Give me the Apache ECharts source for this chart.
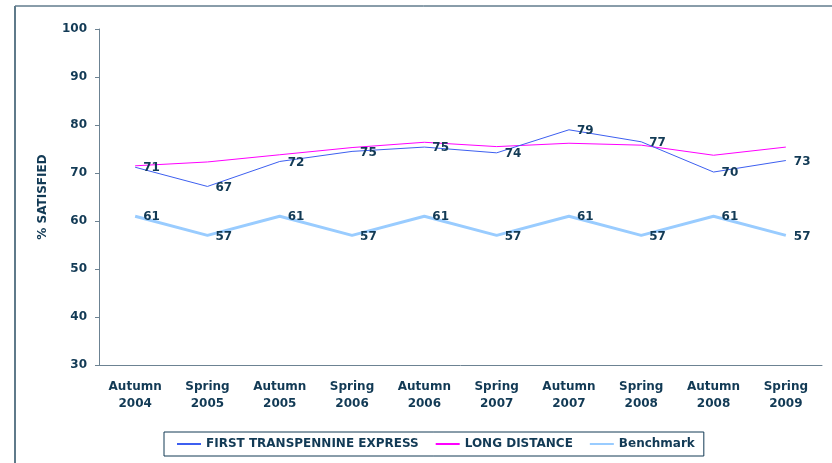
<!DOCTYPE html>
<html>
<head>
<meta charset="utf-8">
<script src="https://cdn.jsdelivr.net/npm/echarts@6/dist/echarts.min.js"></script>
<style>
  html, body { margin: 0; padding: 0; background: #fff; }
  #chart { width: 832px; height: 463px; }
</style>
</head>
<body>
<div id="chart"></div>
<script>
  // 调查期
  const categories = [
    'Autumn\n2004', 'Spring\n2005', 'Autumn\n2005', 'Spring\n2006', 'Autumn\n2006',
    'Spring\n2007', 'Autumn\n2007', 'Spring\n2008', 'Autumn\n2008', 'Spring\n2009'
  ];
  const transpennine = [71.2, 67.2, 72.4, 74.5, 75.4, 74.2, 79.0, 76.5, 70.2, 72.6];
  const longDistance = [71.5, 72.3, 73.8, 75.3, 76.4, 75.5, 76.2, 75.8, 73.7, 75.4];
  const benchmark = [61, 57, 61, 57, 61, 57, 61, 57, 61, 57];
  const yTicks = { min: 30, max: 100, interval: 10 };

  const navy = '#123a55';
  const font = 'DejaVu Sans';

  const chart = echarts.init(document.getElementById('chart'));

  const dataLabel = {
    show: true,
    position: 'right',
    distance: 8,
    offset: [0, 1],
    color: navy,
    fontFamily: font,
    fontWeight: 'bold',
    fontSize: 12,
    formatter: (p) => Math.round(p.value)
  };

  const option = {
    animation: false,
    backgroundColor: '#fff',
    grid: { left: 99, right: 10, top: 29, bottom: 98 },
    graphic: [
      // 外框（只露出左边和上边）
      { type: 'line', shape: { x1: 15, y1: 6, x2: 832, y2: 6 }, style: { stroke: navy, lineWidth: 1 } },
      { type: 'line', shape: { x1: 15, y1: 6, x2: 15, y2: 463 }, style: { stroke: '#5f7a8a', lineWidth: 2 } }
    ],
    legend: {
      left: 164,
      top: 432,
      padding: [6, 9, 6, 12],
      borderColor: navy,
      borderWidth: 1,
      itemWidth: 24,
      itemHeight: 8,
      itemGap: 16,
      itemStyle: { opacity: 0 },
      textStyle: { color: navy, fontFamily: font, fontWeight: 'bold', fontSize: 12 },
      data: ['FIRST TRANSPENNINE EXPRESS', 'LONG DISTANCE', 'Benchmark']
    },
    xAxis: {
      type: 'category',
      data: categories,
      axisLine: { lineStyle: { color: '#6c8292', width: 1 } },
      axisTick: { length: 4, lineStyle: { color: '#6c8292' } },
      axisLabel: {
        margin: 13,
        color: navy,
        fontFamily: font,
        fontWeight: 'bold',
        fontSize: 12,
        lineHeight: 17,
        interval: 0
      }
    },
    yAxis: {
      type: 'value',
      min: yTicks.min,
      max: yTicks.max,
      interval: yTicks.interval,
      name: '% SATISFIED',
      nameLocation: 'middle',
      nameGap: 50,
      nameTextStyle: { color: navy, fontFamily: font, fontWeight: 'bold', fontSize: 12 },
      splitLine: { show: false },
      axisLine: { show: true, lineStyle: { color: '#6c8292', width: 1 } },
      axisTick: { show: true, length: 4, lineStyle: { color: '#6c8292' } },
      axisLabel: {
        margin: 12,
        color: navy,
        fontFamily: font,
        fontWeight: 'bold',
        fontSize: 12
      }
    },
    series: [
      {
        name: 'FIRST TRANSPENNINE EXPRESS',
        type: 'line',
        data: transpennine,
        symbol: 'circle',
        symbolSize: 0,
        lineStyle: { color: '#3d5ff0', width: 1 },
        itemStyle: { color: '#3d5ff0' },
        label: dataLabel,
        z: 4
      },
      {
        name: 'LONG DISTANCE',
        type: 'line',
        data: longDistance,
        symbol: 'none',
        lineStyle: { color: '#ff00ff', width: 1 },
        itemStyle: { color: '#ff00ff' },
        z: 3
      },
      {
        name: 'Benchmark',
        type: 'line',
        data: benchmark,
        symbol: 'circle',
        symbolSize: 0,
        lineStyle: { color: '#99ccff', width: 3 },
        itemStyle: { color: '#99ccff' },
        label: dataLabel,
        z: 2
      }
    ]
  };

  chart.setOption(option);
</script>
</body>
</html>
